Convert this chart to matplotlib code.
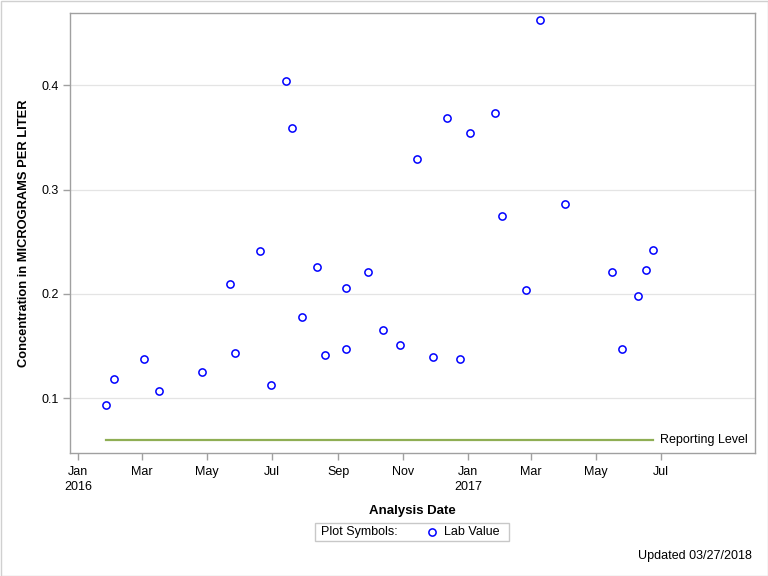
import matplotlib
matplotlib.use("Agg")
import matplotlib.pyplot as plt
import matplotlib.dates as mdates
from matplotlib.patches import Rectangle
from matplotlib.lines import Line2D
import numpy as np
import datetime as dt

plt.rcParams['font.family'] = ['Liberation Sans', 'DejaVu Sans']

dates = ["2016-01-27", "2016-02-04", "2016-03-03", "2016-03-17", "2016-04-26",
         "2016-05-23", "2016-05-27", "2016-06-20", "2016-06-30", "2016-07-14",
         "2016-07-20", "2016-07-29", "2016-08-12", "2016-08-20", "2016-09-08",
         "2016-09-08", "2016-09-29", "2016-10-13", "2016-10-29", "2016-11-14",
         "2016-11-29", "2016-12-12", "2016-12-24", "2017-01-03", "2017-01-26",
         "2017-02-02", "2017-02-24", "2017-03-09", "2017-04-02", "2017-05-16",
         "2017-05-25", "2017-06-09", "2017-06-17", "2017-06-23"]
values = [0.0936, 0.1183, 0.1375, 0.1067, 0.125,
          0.2096, 0.1433, 0.2413, 0.1125, 0.4038,
          0.3596, 0.1779, 0.226, 0.1413, 0.2058,
          0.1471, 0.2212, 0.1654, 0.151, 0.3298,
          0.1394, 0.3692, 0.1375, 0.3548, 0.3731,
          0.275, 0.2038, 0.4625, 0.2865, 0.2212,
          0.1471, 0.198, 0.2231, 0.2423]
reporting_level = 0.06
y_ticks = [0.1, 0.2, 0.3, 0.4]

x = [dt.datetime.strptime(d, "%Y-%m-%d") for d in dates]

fig = plt.figure(figsize=(7.68, 5.76), dpi=100)
ax = fig.add_axes([70/768, 1 - 453.3/576, (755 - 70)/768, (453.3 - 13.3)/576])

ax.plot(x, values, linestyle='none', marker='o', markerfacecolor='white',
        markeredgecolor='#0000ff', markersize=5.2, markeredgewidth=1.1, zorder=3)

ax.plot([x[0], x[-1]], [reporting_level, reporting_level], color='#8fae54', lw=1.6, zorder=2)
ax.text(x[-1] + dt.timedelta(days=7), reporting_level, "Reporting Level",
        va='center', ha='left', fontsize=9, color='black')

ax.set_xlim(dt.datetime(2015, 12, 24, 12), dt.datetime(2017, 9, 27))
ax.set_ylim(0.0471, 0.4692)
ax.set_yticks(y_ticks)
ax.yaxis.set_major_formatter(plt.FuncFormatter(lambda v, p: f"{v:.1f}"))

def fmt(v, p):
    d = mdates.num2date(v)
    if d.month == 1:
        return d.strftime("%b") + "\n" + str(d.year)
    return d.strftime("%b")
ax.set_xticks([mdates.date2num(dt.datetime(y, m, 1)) for y, m in
               [(2016, 1), (2016, 3), (2016, 5), (2016, 7), (2016, 9), (2016, 11),
                (2017, 1), (2017, 3), (2017, 5), (2017, 7)]])
ax.xaxis.set_major_formatter(plt.FuncFormatter(fmt))

ax.grid(axis='y', color='#e4e4e4', lw=0.9, zorder=0)
ax.set_axisbelow(True)
for s in ax.spines.values():
    s.set_color('#a0a0a0')
    s.set_linewidth(1.0)
ax.tick_params(axis='both', colors='#a0a0a0', labelcolor='black', labelsize=9,
               length=5, width=1, direction='out')
ax.tick_params(axis='x', pad=4)
ax.tick_params(axis='y', pad=3)
for lbl in ax.get_xticklabels():
    lbl.set_linespacing(1.35)

ax.set_xlabel("Analysis Date", fontsize=9.5, fontweight='bold', labelpad=9)
ax.set_ylabel("Concentration in MICROGRAMS PER LITER", fontsize=9.3, fontweight='bold', labelpad=8)

# legend box
fig.patches.append(Rectangle((315/768, 1 - 540.7/576), (508.7 - 315)/768, 18/576,
                             transform=fig.transFigure, facecolor='white',
                             edgecolor='#c8c8c8', lw=1))
fig.text(321/768, 1 - 531.7/576, "Plot Symbols:", fontsize=9, va='center', ha='left')
fig.lines.append(Line2D([432/768], [1 - 531.7/576], transform=fig.transFigure,
                        marker='o', markerfacecolor='white', markeredgecolor='#0000ff',
                        markersize=5.2, markeredgewidth=1.1, linestyle='none'))
fig.text(444/768, 1 - 531.7/576, "Lab Value", fontsize=9, va='center', ha='left')

fig.text(752/768, 1 - 556/576, "Updated 03/27/2018", fontsize=9, va='center', ha='right')

# outer border
fig.patches.append(Rectangle((0.5/768, 0.5/576), 767/768, 575/576, transform=fig.transFigure,
                             facecolor='none', edgecolor='#d0d0d0', lw=1))

fig.savefig("out.png", dpi=100)
